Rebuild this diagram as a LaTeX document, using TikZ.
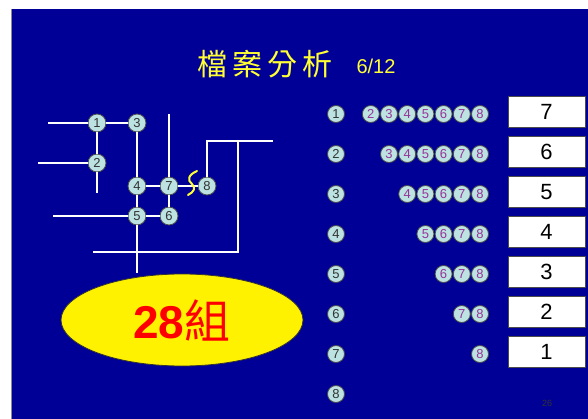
\documentclass[tikz,border=0pt]{standalone}
\usepackage{fontspec}
\setmainfont{Liberation Sans}
\newfontfamily\cjk{Noto Sans CJK TC}
\usetikzlibrary{shapes.geometric}
\definecolor{slideblue}{HTML}{000096}
\definecolor{ballfill}{HTML}{BCE2E2}
\definecolor{ballnum}{HTML}{993399}
\definecolor{titleyellow}{HTML}{FFFF33}

\begin{document}
\begin{tikzpicture}[x=1pt, y=-1pt,
  ball/.style={circle, draw=black!70, fill=ballfill, line width=0.8pt,
               inner sep=0pt, minimum size=18pt,
               font=\fontsize{13}{13}\selectfont, text=black!80},
  idx/.style={ball, minimum size=17pt},
  pick/.style={ball, minimum size=17pt, text=ballnum},
  cntbox/.style={draw=black!70, fill=white, line width=0.8pt, inner sep=0pt,
               minimum width=77pt, minimum height=31pt,
               font=\fontsize{22}{22}\selectfont},
  wire/.style={draw=white, line width=2pt},
  cut/.style={draw=titleyellow, line width=2pt, line cap=round},
]

% Slide background.
\useasboundingbox (0,0) rectangle (588,419);
\fill[white] (0,0) rectangle (588,419);
\fill[slideblue] (12,9) rectangle (588,419);
\draw[black!45, line width=1pt] (11.5,9) -- (11.5,419);

% Title.
\node[text=titleyellow, font=\cjk\fontsize{30}{30}\selectfont, inner sep=0pt]
  (title) at (265,64) {檔\hspace{5pt}案\hspace{5pt}分\hspace{5pt}析};
\node[text=titleyellow, font=\fontsize{20}{20}\selectfont, inner sep=0pt]
  (part) at (376,66) {6/12};

% Left: the network of eight points.
\node[ball] (n1) at (97,123) {1};
\node[ball] (n3) at (137,123) {3};
\node[ball] (n2) at (97,163) {2};
\node[ball] (n4) at (137,186) {4};
\node[ball] (n7) at (169,186) {7};
\node[ball] (n8) at (207,186) {8};
\node[ball] (n5) at (137,216) {5};
\node[ball] (n6) at (169,216) {6};

% Free ends of the wires.
\coordinate (w1) at (48,123);
\coordinate (w2) at (38,163);
\coordinate (w2d) at (97,193);
\coordinate (w5) at (53,216);
\coordinate (w5d) at (137,273);
\coordinate (w7u) at (169,114);
\coordinate (up8) at (207,141);
\coordinate (mid) at (238,141);
\coordinate (far) at (273,141);
\coordinate (low) at (238,252);
\coordinate (lowL) at (93,252);

\draw[wire] (w1) -- (n1) -- (n3) -- (n4) -- (n5) -- (w5d);
\draw[wire] (n1) -- (n2) -- (w2d);
\draw[wire] (w2) -- (n2);
\draw[wire] (w5) -- (n5) -- (n6) -- (n7) -- (w7u);
\draw[wire] (n4) -- (n7) -- (n8);
\draw[wire] (n8) -- (up8) -- (far);
\draw[wire] (mid) -- (low) -- (lowL);

% Cut between 7 and 8.
\draw[cut] (197,171) .. controls (188,175) and (187,180) .. (192,184)
  .. controls (196,188) and (194,192) .. (188,195);

% Number of pairs.
\node[ellipse, draw=black!80, fill=yellow, line width=0.8pt,
      minimum width=242pt, minimum height=92pt, inner sep=0pt,
      text=red, font=\fontsize{46}{46}\selectfont] (total) at (182,320)
  {\textbf{28}{\cjk 組}};

% Right: pairs for each point.
\foreach \i in {1,...,8}
  \node[idx] (r\i) at (336,74+40*\i) {\i};
\foreach \i in {1,...,7}{
  \pgfmathtruncatemacro\k{\i+1}
  \pgfmathtruncatemacro\n{8-\i}
  \foreach \j in {\k,...,8}
    \node[pick] (c\i\j) at (480-18.2*8+18.2*\j,74+40*\i) {\j};
  \node[cntbox] (cnt\i) at (546.5,72+40*\i) {\n};
}

% Page number.
\node[text=black!80, font=\fontsize{9}{9}\selectfont, inner sep=0pt]
  (page) at (547,403) {26};

\end{tikzpicture}
\end{document}
